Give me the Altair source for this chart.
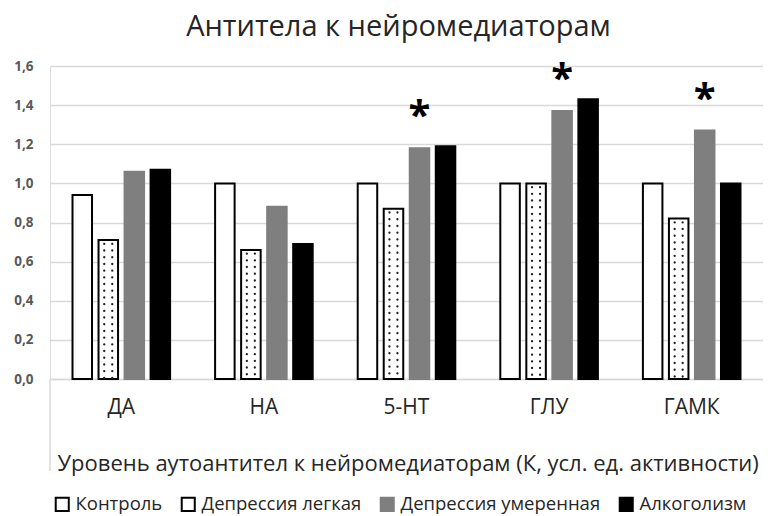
import altair as alt
import pandas as pd

categories = ["ДА", "НА", "5-HT", "ГЛУ", "ГАМК"]
series = ["Контроль", "Депрессия легкая", "Депрессия умеренная", "Алкоголизм"]
control = [0.94, 1.00, 1.00, 1.00, 1.00]
mild = [0.71, 0.66, 0.87, 1.00, 0.82]
moderate = [1.06, 0.88, 1.18, 1.37, 1.27]
alcohol = [1.07, 0.69, 1.19, 1.43, 1.00]
significant = ["5-HT", "ГЛУ", "ГАМК"]
y_ticks = [0.0, 0.2, 0.4, 0.6, 0.8, 1.0, 1.2, 1.4, 1.6]

FONT = "Open Sans"
W, H = 713, 313

rows = []
for s, vals in zip(series, [control, mild, moderate, alcohol]):
    for c, v in zip(categories, vals):
        rows.append({"category": c, "series": s, "value": v})
df = pd.DataFrame(rows)

star_df = pd.DataFrame({
    "category": significant,
    "series": [series[2]] * len(significant),
    "value": [moderate[categories.index(c)] for c in significant],
})

x_enc = alt.X("category:N", sort=categories,
              scale=alt.Scale(paddingInner=0.27, paddingOuter=0.135),
              axis=alt.Axis(title="Уровень аутоантител к нейромедиаторам (К, усл. ед. активности)",
                            labelAngle=0, labelFont=FONT, labelFontSize=21, labelColor="#262626",
                            labelPadding=17, ticks=False, grid=False,
                            domainColor="#d9d9d9", domainWidth=1.5,
                            titleFont=FONT, titleFontSize=22, titleFontWeight="normal",
                            titleColor="#262626", titleAlign="left", titleAnchor="start",
                            titleX=7, titleY=84, titleBaseline="middle"))
xo_enc = alt.XOffset("series:N", sort=series,
                     scale=alt.Scale(paddingInner=0.25, paddingOuter=0.125))
y_enc = alt.Y("value:Q",
              scale=alt.Scale(domain=[0, 1.6], nice=False),
              axis=alt.Axis(title=None, values=y_ticks, format=".1f",
                            labelExpr="replace(datum.label, '.', ',')",
                            labelOverlap=False,
                            labelFont=FONT, labelFontSize=13.5, labelColor="#595959",
                            labelFontWeight="bold",
                            labelPadding=17, ticks=False, domain=False,
                            domainColor="transparent", domainOpacity=0,
                            gridColor="#d9d9d9", gridWidth=1.5))

leg = alt.Legend(title=None, orient="none", legendX=3, legendY=429,
                 direction="horizontal", symbolType="square",
                 symbolSize=170, symbolStrokeWidth=2, labelLimit=400,
                 labelFont=FONT, labelFontSize=18.5, labelColor="#262626",
                 labelOffset=4, columnPadding=14, padding=0)

bars = alt.Chart(df).mark_bar(strokeWidth=2).encode(
    x=x_enc,
    xOffset=xo_enc,
    y=y_enc,
    fill=alt.Fill("series:N", sort=series,
                  scale=alt.Scale(domain=series, range=["#ffffff", "#ffffff", "#7f7f7f", "#000000"]),
                  legend=leg),
    stroke=alt.Stroke("series:N", sort=series,
                      scale=alt.Scale(domain=series, range=["#000000", "#000000", "#7f7f7f", "#000000"]),
                      legend=leg),
)

dot_base = alt.Chart(df[df["series"] == series[1]])
dot_style = dict(strokeDash=[0.1, 6.6], strokeCap="round", strokeWidth=2.3,
                 strokeDashOffset=3, color="#222")
dots_l = dot_base.mark_rule(**dot_style).encode(
    x=x_enc,
    xOffset=alt.value(35),
    y=y_enc, y2=alt.datum(0))
dots_r = dot_base.mark_rule(**dot_style).encode(
    x=x_enc,
    xOffset=alt.value(43),
    y=y_enc, y2=alt.datum(0))

stars = alt.Chart(star_df).mark_text(text="*", font=FONT, fontSize=40, fontWeight="bold",
                                     color="#000", baseline="middle", dy=-31).encode(
    x=x_enc,
    xOffset=xo_enc,
    y=y_enc)

# left border of the category-label area below the plot (decoration)
vline = alt.Chart(alt.Data(values=[{}])).mark_rect(color="#d9d9d9").encode(
    x=alt.value(-0.75), x2=alt.value(0.75), y=alt.value(H), y2=alt.value(H + 92))

chart = alt.layer(bars, dots_l, dots_r, stars, vline).properties(
    width=W, height=H,
    title=alt.TitleParams("Антитела к нейромедиаторам", font=FONT, fontSize=29,
                          fontWeight="normal", color="#262626", anchor="middle",
                          offset=17, dx=-8),
    autosize=alt.AutoSizeParams(type="none"),
    padding={"left": 42, "top": 58, "right": 0, "bottom": 135},
).configure_view(stroke="transparent", strokeWidth=0).configure(background="#ffffff")

chart.save("out.html", embed_options={"renderer": "svg", "actions": False})
